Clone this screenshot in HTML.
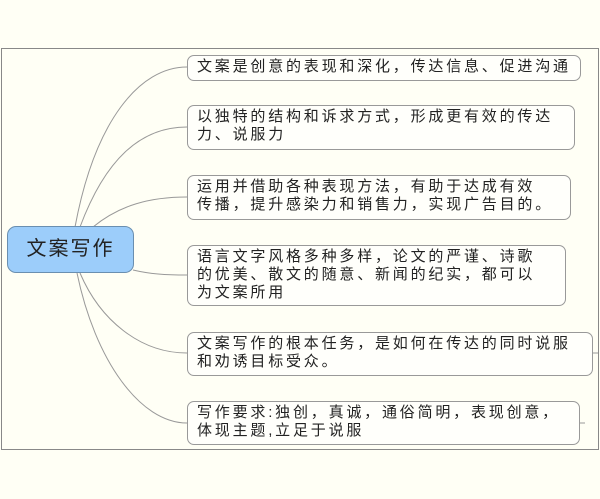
<!DOCTYPE html>
<html><head><meta charset="utf-8"><style>
body{margin:0;width:600px;height:499px;background:#fffff5;position:relative;overflow:hidden;font-family:"Liberation Sans","Noto Sans CJK SC",sans-serif;}
.frame{position:absolute;left:1px;top:48px;width:596px;height:400px;border:1px solid #888;}
.b{position:absolute;left:187px;border:1px solid #999;border-radius:7px;background:#fffffb;box-sizing:border-box;padding:2px 0 0 9px;font-size:15px;line-height:18px;letter-spacing:2.8px;color:#222;white-space:nowrap;}
.root{position:absolute;left:7px;top:226px;width:127px;height:47px;box-sizing:border-box;background:#9ccdfa;border:1px solid #6a8fb0;border-radius:9px;font-size:20px;line-height:45px;text-align:center;letter-spacing:2px;color:#222;}
svg{position:absolute;left:0;top:0;}
</style></head><body>
<div class="frame"></div>
<svg width="600" height="499"><g fill="none" stroke="#999" stroke-width="1">
<path d="M75 227 C95 120 140 67 187 67"/>
<path d="M80 227 C105 160 140 127 187 127"/>
<path d="M93 227 C120 205 150 197 187 197"/>
<path d="M133 270 C150 274 165 275 187 275"/>
<path d="M80 273 C100 320 140 353 187 353"/>
<path d="M77 273 C95 360 140 423 187 423"/>
<path d="M593 353 H598"/><path d="M580 423 H585"/>
</g></svg>
<div class="root">文案写作</div>
<div class="b" style="top:55px;width:394px;height:26px;">文案是创意的表现和深化，传达信息、促进沟通</div>
<div class="b" style="top:105px;width:388px;height:45px;">以独特的结构和诉求方式，形成更有效的传达<br>力、说服力</div>
<div class="b" style="top:175px;width:384px;height:45px;">运用并借助各种表现方法，有助于达成有效<br>传播，提升感染力和销售力，实现广告目的。</div>
<div class="b" style="top:245px;width:379px;height:61px;">语言文字风格多种多样，论文的严谨、诗歌<br>的优美、散文的随意、新闻的纪实，都可以<br>为文案所用</div>
<div class="b" style="top:332px;width:406px;height:44px;">文案写作的根本任务，是如何在传达的同时说服<br>和劝诱目标受众。</div>
<div class="b" style="top:401px;width:393px;height:44px;">写作要求:独创，真诚，通俗简明，表现创意，<br>体现主题,立足于说服</div>
</body></html>
